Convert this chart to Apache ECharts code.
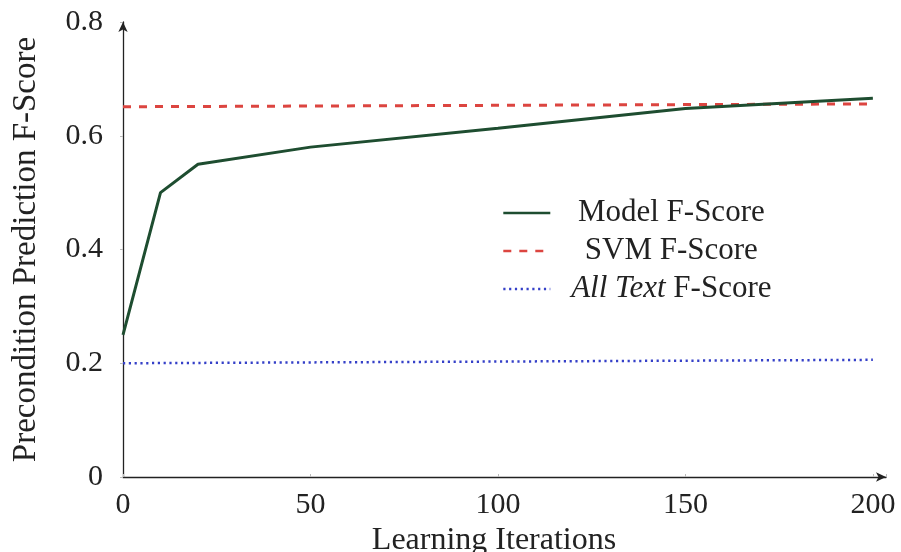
<!DOCTYPE html>
<html>
<head>
<meta charset="utf-8">
<script src="https://cdn.jsdelivr.net/npm/echarts@6/dist/echarts.min.js"></script>
<style>
html,body{margin:0;padding:0;background:#fff;}
#c{width:901px;height:552px;}
</style>
</head>
<body>
<div id="c"></div>
<script>
// ---- data ----
const iterations = [0, 10, 20, 50, 100, 150, 200];
const modelF = [0.25, 0.50, 0.55, 0.58, 0.613, 0.648, 0.666];
const baselineX = [0, 200];
const svmF = [0.651, 0.656];
const allTextF = [0.200, 0.206];
const xTicks = [0, 50, 100, 150, 200];
const yTicks = [0, 0.2, 0.4, 0.6, 0.8];
const seriesNames = ['Model F-Score', 'SVM F-Score', 'All Text F-Score'];

const FONT = '"Liberation Serif", "DejaVu Serif", serif';
const chart = echarts.init(document.getElementById('c'), null, {renderer: 'canvas'});

function pairs(xs, ys) { return xs.map((x, i) => [x, ys[i]]); }

chart.setOption({
  backgroundColor: '#ffffff',
  animation: false,
  grid: {left: 123, right: 15, top: 22, bottom: 75, containLabel: false, outerBoundsMode: 'none'},
  xAxis: {
    type: 'value', min: 0, max: 203.5, interval: 50,
    name: 'Learning Iterations', nameLocation: 'middle', nameGap: 48,
    nameTextStyle: {fontFamily: FONT, fontSize: 32, color: '#222', padding: [0, 21, 0, 0]},
    axisLine: {show: true, lineStyle: {color: '#222', width: 1.3}, symbol: ['none', 'arrow'], symbolSize: [7, 10]},
    axisTick: {show: true, inside: true, length: 3, lineStyle: {color: '#bbb'}},
    splitLine: {show: false},
    axisLabel: {
      fontFamily: FONT, fontSize: 30, color: '#222', margin: 13,
      formatter: v => xTicks.indexOf(v) >= 0 ? String(v) : ''
    }
  },
  yAxis: {
    type: 'value', min: 0, max: 0.8, interval: 0.2,
    name: 'Precondition Prediction F-Score', nameLocation: 'middle', nameGap: 80,
    nameTextStyle: {fontFamily: FONT, fontSize: 33, color: '#222'},
    axisLine: {show: true, lineStyle: {color: '#222', width: 1.3}, symbol: ['none', 'arrow'], symbolSize: [7, 10]},
    axisTick: {show: true, inside: false, length: 3, lineStyle: {color: '#bbb'}},
    splitLine: {show: false},
    axisLabel: {
      fontFamily: FONT, fontSize: 30, color: '#222', margin: 20,
      formatter: v => { const t = yTicks.find(k => Math.abs(k - v) < 1e-9); return t === undefined ? '' : String(t); }
    }
  },
  legend: {
    orient: 'vertical', left: 497, top: 189,
    itemWidth: 47, itemHeight: 2, itemGap: 0,
    itemStyle: {opacity: 0},
    lineStyle: {width: 2.6},
    data: seriesNames,
    formatter: name => name === 'All Text F-Score' ? '{i|All Text }{n|F-Score}' : '{n|' + name + '}',
    textStyle: {
      fontFamily: FONT, fontSize: 31, color: '#222', width: 232, lineHeight: 38,
      rich: {
        n: {fontFamily: FONT, fontSize: 31, color: '#222', align: 'center', lineHeight: 38},
        i: {fontFamily: FONT, fontSize: 31, color: '#222', fontStyle: 'italic', align: 'center', lineHeight: 38}
      }
    }
  },
  series: [
    {
      name: seriesNames[0], type: 'line', data: pairs(iterations, modelF),
      symbol: 'none', lineStyle: {color: '#1e4d30', width: 3}, itemStyle: {color: '#1e4d30'}, z: 3
    },
    {
      name: seriesNames[1], type: 'line', data: pairs(baselineX, svmF),
      symbol: 'none', lineStyle: {color: '#dc4540', width: 3, type: [8, 8]}, itemStyle: {color: '#dc4540'}, z: 2
    },
    {
      name: seriesNames[2], type: 'line', data: pairs(baselineX, allTextF),
      symbol: 'none', lineStyle: {color: '#3540c8', width: 2.5, type: [2.2, 3.6]}, itemStyle: {color: '#3540c8'}, z: 2
    }
  ]
});
</script>
</body>
</html>
